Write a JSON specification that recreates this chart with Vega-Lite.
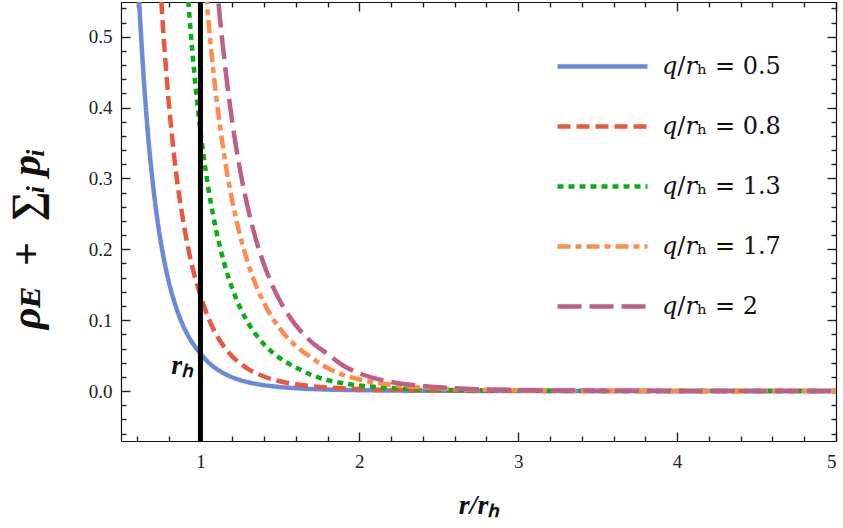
{
  "$schema": "https://vega.github.io/schema/vega-lite/v6.json",
  "width": 715,
  "height": 439,
  "autosize": {"type": "none"},
  "padding": {"left": 121, "top": 2, "right": 7, "bottom": 87},
  "background": "white",
  "config": {
    "view": {"stroke": null},
    "axis": {
      "labelFont": "Liberation Serif",
      "labelFontSize": 19,
      "labelColor": "#222",
      "domainColor": "#111",
      "domainWidth": 1.2,
      "tickColor": "#222",
      "tickWidth": 1.4,
      "grid": false,
      "titleFont": "Liberation Serif",
      "titleFontStyle": "italic",
      "titleFontWeight": "bold",
      "titleColor": "#111"
    }
  },
  "resolve": {"axis": {"x": "independent", "y": "independent"}},
  "layer": [
    {
      "mark": {"type": "rule", "color": "black", "strokeWidth": 1},
      "encoding": {
        "x": {"datum": 0.5, "type": "quantitative", "scale": {"domain": [0.5, 5], "nice": false, "zero": false},
          "axis": {"orient": "top", "title": null, "labels": false, "domain": false, "tickSize": -5,
            "values": [0.6,0.8,1.2,1.4,1.6,1.8,2.2,2.4,2.6,2.8,3.2,3.4,3.6,3.8,4.2,4.4,4.6,4.8]}},
        "x2": {"datum": 5},
        "y": {"datum": 0, "type": "quantitative", "scale": {"domain": [-0.0705, 0.549], "nice": false, "zero": false},
          "axis": {"orient": "left", "title": null, "labels": false, "domain": false, "tickSize": -5,
            "values": [-0.06,-0.04,-0.02,0.02,0.04,0.06,0.08,0.12,0.14,0.16,0.18,0.22,0.24,0.26,0.28,0.32,0.34,0.36,0.38,0.42,0.44,0.46,0.48,0.52,0.54]}}
      }
    },
    {
      "data": {"values": [
        {"q":"0.5","r":0.6,"v":0.615},{"q":"0.5","r":0.62,"v":0.526},{"q":"0.5","r":0.64,"v":0.452},{"q":"0.5","r":0.66,"v":0.389},{"q":"0.5","r":0.68,"v":0.337},{"q":"0.5","r":0.7,"v":0.294},{"q":"0.5","r":0.73,"v":0.240},{"q":"0.5","r":0.76,"v":0.198},{"q":"0.5","r":0.8,"v":0.155},{"q":"0.5","r":0.85,"v":0.116},{"q":"0.5","r":0.9,"v":0.0879},{"q":"0.5","r":0.95,"v":0.0678},{"q":"0.5","r":1.0,"v":0.053},{"q":"0.5","r":1.05,"v":0.0405},{"q":"0.5","r":1.1,"v":0.0314},{"q":"0.5","r":1.15,"v":0.0246},{"q":"0.5","r":1.2,"v":0.0194},{"q":"0.5","r":1.3,"v":0.0125},{"q":"0.5","r":1.4,"v":0.0083},{"q":"0.5","r":1.5,"v":0.0057},{"q":"0.5","r":1.6,"v":0.004},{"q":"0.5","r":1.8,"v":0.0021},{"q":"0.5","r":2.0,"v":0.0012},{"q":"0.5","r":2.3,"v":0.00054},{"q":"0.5","r":2.6,"v":0.00028},{"q":"0.5","r":3.0,"v":0.00013},{"q":"0.5","r":3.5,"v":0.00005},{"q":"0.5","r":4.0,"v":0.00003},{"q":"0.5","r":5.0,"v":0.00001},
        {"q":"0.8","r":0.74,"v":0.604},{"q":"0.8","r":0.76,"v":0.528},{"q":"0.8","r":0.78,"v":0.464},{"q":"0.8","r":0.8,"v":0.409},{"q":"0.8","r":0.82,"v":0.362},{"q":"0.8","r":0.85,"v":0.302},{"q":"0.8","r":0.88,"v":0.256},{"q":"0.8","r":0.9,"v":0.229},{"q":"0.8","r":0.92,"v":0.205},{"q":"0.8","r":0.95,"v":0.174},{"q":"0.8","r":1.0,"v":0.135},{"q":"0.8","r":1.05,"v":0.103},{"q":"0.8","r":1.1,"v":0.0795},{"q":"0.8","r":1.15,"v":0.062},{"q":"0.8","r":1.2,"v":0.049},{"q":"0.8","r":1.25,"v":0.039},{"q":"0.8","r":1.3,"v":0.0312},{"q":"0.8","r":1.4,"v":0.0205},{"q":"0.8","r":1.5,"v":0.0138},{"q":"0.8","r":1.6,"v":0.0096},{"q":"0.8","r":1.7,"v":0.0069},{"q":"0.8","r":1.8,"v":0.005},{"q":"0.8","r":2.0,"v":0.0028},{"q":"0.8","r":2.2,"v":0.0016},{"q":"0.8","r":2.5,"v":0.0008},{"q":"0.8","r":3.0,"v":0.0003},{"q":"0.8","r":3.5,"v":0.00012},{"q":"0.8","r":4.0,"v":0.00006},{"q":"0.8","r":5.0,"v":0.00002},
        {"q":"1.3","r":0.9,"v":0.628},{"q":"1.3","r":0.92,"v":0.5616},{"q":"1.3","r":0.94,"v":0.503},{"q":"1.3","r":0.96,"v":0.4519},{"q":"1.3","r":0.98,"v":0.4068},{"q":"1.3","r":1.0,"v":0.367},{"q":"1.3","r":1.02,"v":0.3317},{"q":"1.3","r":1.05,"v":0.2861},{"q":"1.3","r":1.08,"v":0.2478},{"q":"1.3","r":1.1,"v":0.2257},{"q":"1.3","r":1.15,"v":0.1799},{"q":"1.3","r":1.2,"v":0.1449},{"q":"1.3","r":1.25,"v":0.1176},{"q":"1.3","r":1.3,"v":0.0963},{"q":"1.3","r":1.35,"v":0.0794},{"q":"1.3","r":1.4,"v":0.066},{"q":"1.3","r":1.5,"v":0.0464},{"q":"1.3","r":1.6,"v":0.0334},{"q":"1.3","r":1.7,"v":0.0225},{"q":"1.3","r":1.8,"v":0.0155},{"q":"1.3","r":1.9,"v":0.0109},{"q":"1.3","r":2.0,"v":0.0078},{"q":"1.3","r":2.2,"v":0.0042},{"q":"1.3","r":2.4,"v":0.0024},{"q":"1.3","r":2.7,"v":0.0011},{"q":"1.3","r":3.0,"v":0.00056},{"q":"1.3","r":3.5,"v":0.0002},{"q":"1.3","r":4.0,"v":0.00009},{"q":"1.3","r":5.0,"v":0.00002},
        {"q":"1.7","r":1.02,"v":0.605},{"q":"1.7","r":1.04,"v":0.549},{"q":"1.7","r":1.06,"v":0.499},{"q":"1.7","r":1.08,"v":0.4546},{"q":"1.7","r":1.1,"v":0.4148},{"q":"1.7","r":1.12,"v":0.379},{"q":"1.7","r":1.15,"v":0.332},{"q":"1.7","r":1.18,"v":0.292},{"q":"1.7","r":1.2,"v":0.2685},{"q":"1.7","r":1.25,"v":0.219},{"q":"1.7","r":1.3,"v":0.18},{"q":"1.7","r":1.35,"v":0.149},{"q":"1.7","r":1.4,"v":0.1242},{"q":"1.7","r":1.45,"v":0.1042},{"q":"1.7","r":1.5,"v":0.088},{"q":"1.7","r":1.6,"v":0.0637},{"q":"1.7","r":1.7,"v":0.047},{"q":"1.7","r":1.8,"v":0.0324},{"q":"1.7","r":1.9,"v":0.0228},{"q":"1.7","r":2.0,"v":0.01635},{"q":"1.7","r":2.2,"v":0.0088},{"q":"1.7","r":2.4,"v":0.005},{"q":"1.7","r":2.7,"v":0.0023},{"q":"1.7","r":3.0,"v":0.00117},{"q":"1.7","r":3.5,"v":0.00043},{"q":"1.7","r":4.0,"v":0.00018},{"q":"1.7","r":4.5,"v":0.0001},{"q":"1.7","r":5.0,"v":0.00005},
        {"q":"2","r":1.08,"v":0.637},{"q":"2","r":1.1,"v":0.5824},{"q":"2","r":1.12,"v":0.533},{"q":"2","r":1.15,"v":0.468},{"q":"2","r":1.18,"v":0.413},{"q":"2","r":1.2,"v":0.38},{"q":"2","r":1.25,"v":0.311},{"q":"2","r":1.3,"v":0.257},{"q":"2","r":1.35,"v":0.2135},{"q":"2","r":1.4,"v":0.1786},{"q":"2","r":1.45,"v":0.1504},{"q":"2","r":1.5,"v":0.1274},{"q":"2","r":1.6,"v":0.0929},{"q":"2","r":1.7,"v":0.069},{"q":"2","r":1.8,"v":0.0522},{"q":"2","r":1.9,"v":0.0357},{"q":"2","r":2.0,"v":0.025},{"q":"2","r":2.2,"v":0.0128},{"q":"2","r":2.4,"v":0.007},{"q":"2","r":2.7,"v":0.00305},{"q":"2","r":3.0,"v":0.00146},{"q":"2","r":3.5,"v":0.0005},{"q":"2","r":4.0,"v":0.0002},{"q":"2","r":4.5,"v":0.00009},{"q":"2","r":5.0,"v":0.00004}
      ]},
      "mark": {"type": "line", "strokeWidth": 4.5, "clip": true, "interpolate": "monotone"},
      "encoding": {
        "x": {"field": "r", "type": "quantitative",
          "scale": {"domain": [0.5, 5], "nice": false, "zero": false},
          "axis": {
            "orient": "bottom",
            "title": "r/rₕ",
            "titleFontSize": 28,
            "titlePadding": 20,
            "values": [1, 2, 3, 4, 5],
            "tickSize": -9,
            "format": "d",
            "labelPadding": 20
          }
        },
        "y": {"field": "v", "type": "quantitative",
          "scale": {"domain": [-0.0705, 0.549], "nice": false, "zero": false},
          "axis": {
            "orient": "left",
            "title": "ρᴇ\u2002+\u2002∑ᵢ\u2009pᵢ",
            "titleFontSize": 42,
            "titlePadding": 40,
            "titleY": 236,
            "values": [0, 0.1, 0.2, 0.3, 0.4, 0.5],
            "tickSize": -9,
            "format": ".1f",
            "labelPadding": 18
          }
        },
        "color": {"field": "q", "type": "nominal",
          "scale": {"domain": ["0.5","0.8","1.3","1.7","2"], "range": ["#6a8ad9","#e9583c","#0aad14","#ff8c4d","#bd5f87"]},
          "legend": {
            "title": null,
            "orient": "none",
            "legendX": 434,
            "legendY": 17,
            "symbolType": "stroke",
            "symbolSize": 8100,
            "symbolStrokeWidth": 4.5,
            "labelFont": "DejaVu Serif",
            "labelFontSize": 24,
            "labelColor": "#111",
            "labelOffset": 12,
            "rowPadding": -6,
            "labelExpr": "'𝑞/𝑟ₕ = ' + datum.label"
          }
        },
        "strokeDash": {"field": "q", "type": "nominal",
          "scale": {"domain": ["0.5","0.8","1.3","1.7","2"], "range": [[1,0],[13,6],[6,5],[13,5,6,5],[24,8]]},
          "legend": {
            "title": null,
            "orient": "none",
            "legendX": 434,
            "legendY": 17,
            "symbolType": "stroke",
            "symbolSize": 8100,
            "symbolStrokeWidth": 4.5,
            "labelFont": "DejaVu Serif",
            "labelFontSize": 24,
            "labelColor": "#111",
            "labelOffset": 12,
            "rowPadding": -6,
            "labelExpr": "'𝑞/𝑟ₕ = ' + datum.label"
          }
        }
      }
    },
    {
      "data": {"values": [{"r": 1}]},
      "mark": {"type": "rule", "color": "black", "strokeWidth": 5},
      "encoding": {
        "x": {"field": "r", "type": "quantitative", "scale": {"domain": [0.5, 5], "nice": false, "zero": false},
          "axis": {"orient": "bottom", "title": null, "labels": false, "domain": false, "tickSize": -5,
            "values": [0.6,0.8,1.2,1.4,1.6,1.8,2.2,2.4,2.6,2.8,3.2,3.4,3.6,3.8,4.2,4.4,4.6,4.8]}},
        "y": {"datum": -0.0705, "type": "quantitative", "scale": {"domain": [-0.0705, 0.549], "nice": false, "zero": false},
          "axis": {"orient": "right", "title": null, "labels": false, "domain": false, "tickSize": -5,
            "values": [-0.06,-0.04,-0.02,0.02,0.04,0.06,0.08,0.12,0.14,0.16,0.18,0.22,0.24,0.26,0.28,0.32,0.34,0.36,0.38,0.42,0.44,0.46,0.48,0.52,0.54]}},
        "y2": {"datum": 0.549}
      }
    },
    {
      "data": {"values": [{"r": 0.885, "v": 0.036, "label": "rₕ"}]},
      "mark": {"type": "text", "font": "Liberation Serif", "fontSize": 28, "fontStyle": "italic", "fontWeight": "bold", "color": "#111"},
      "encoding": {
        "x": {"field": "r", "type": "quantitative",
          "scale": {"domain": [0.5, 5], "nice": false, "zero": false},
          "axis": {"orient": "top", "title": null, "labels": false, "values": [1, 2, 3, 4, 5], "tickSize": -9}
        },
        "y": {"field": "v", "type": "quantitative",
          "scale": {"domain": [-0.0705, 0.549], "nice": false, "zero": false},
          "axis": {"orient": "right", "title": null, "labels": false, "values": [0, 0.1, 0.2, 0.3, 0.4, 0.5], "tickSize": -9}
        },
        "text": {"field": "label"}
      }
    }
  ]
}
